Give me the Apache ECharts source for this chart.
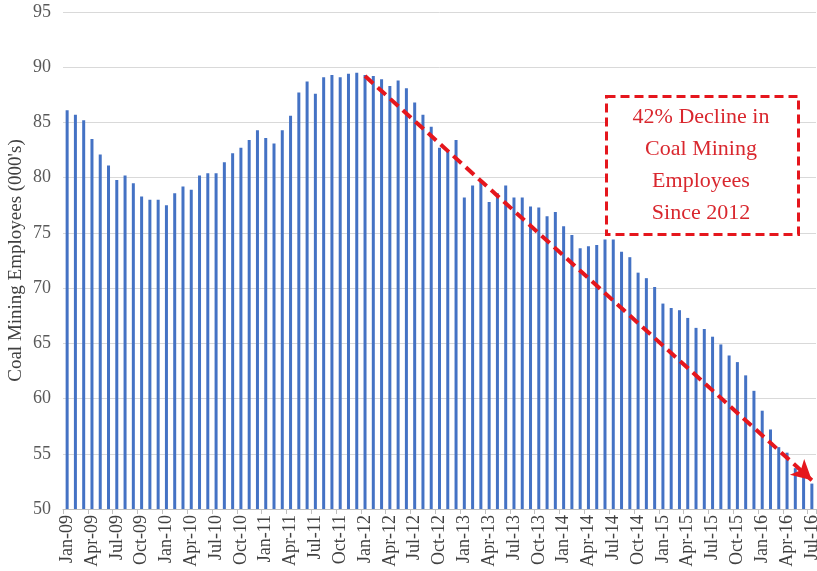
<!DOCTYPE html>
<html>
<head>
<meta charset="utf-8">
<script src="https://cdn.jsdelivr.net/npm/echarts@6/dist/echarts.min.js"></script>
<style>
  html, body { margin: 0; padding: 0; background: #fff; }
  #chart { width: 817px; height: 571px; }
</style>
</head>
<body>
<div id="chart"></div>
<script>
// monthly categories Jan-09 .. Jul-16
const months = ['Jan', 'Feb', 'Mar', 'Apr', 'May', 'Jun', 'Jul', 'Aug', 'Sep', 'Oct', 'Nov', 'Dec']
const years = ['09', '10', '11', '12', '13', '14', '15', '16']
const categories = []
years.forEach(y => months.forEach(m => categories.push(m + '-' + y)))
categories.length = 91

// coal mining employees (000's)
const employees = [
  86.1, 85.7, 85.2, 83.5, 82.1, 81.1, 79.8, 80.2, 79.5, 78.3, 78.0, 78.0,
  77.5, 78.6, 79.2, 78.9, 80.2, 80.4, 80.4, 81.4, 82.2, 82.7, 83.4, 84.3,
  83.6, 83.1, 84.3, 85.6, 87.7, 88.7, 87.6, 89.1, 89.3, 89.1, 89.4, 89.5,
  89.3, 89.2, 88.9, 88.3, 88.8, 88.1, 86.8, 85.7, 84.6, 82.7, 82.5, 83.4,
  78.2, 79.3, 79.7, 77.8, 78.6, 79.3, 78.2, 78.2, 77.4, 77.3, 76.5, 76.9,
  75.6, 74.8, 73.6, 73.8, 73.9, 74.4, 74.4, 73.3, 72.8, 71.4, 70.9, 70.1,
  68.6, 68.2, 68.0, 67.3, 66.4, 66.3, 65.6, 64.9, 63.9, 63.3, 62.1, 60.7,
  58.9, 57.2, 55.6, 55.1, 53.7, 53.2, 52.3
]

// trend arrow endpoints [category, value]
const trendStart = ['Jan-12', 89.2]
const trendEnd = ['Jul-16', 52.6]

const noteLines = ['42% Decline in', 'Coal Mining', 'Employees', 'Since 2012']

const serif = '"Liberation Serif", "DejaVu Serif", serif'
const red = '#e5161d'

const chart = echarts.init(document.getElementById('chart'))

const option = {
  animation: false,
  backgroundColor: '#fff',
  textStyle: { fontFamily: serif },
  grid: { left: 63, right: 1, top: 12, bottom: 62, containLabel: false, outerBoundsMode: 'none' },
  xAxis: {
    type: 'category',
    data: categories,
    axisLine: { lineStyle: { color: '#bfbfbf', width: 1 } },
    axisTick: { show: true, interval: 2, length: 5, lineStyle: { color: '#bfbfbf' } },
    axisLabel: {
      interval: 2,
      rotate: 90,
      margin: 6,
      color: '#404040',
      fontSize: 18,
      fontFamily: serif
    }
  },
  yAxis: {
    type: 'value',
    min: 50,
    max: 95,
    interval: 5,
    name: "Coal Mining Employees (000's)",
    nameLocation: 'middle',
    nameGap: 37,
    nameMoveOverlap: false,
    nameTextStyle: { color: '#404040', fontSize: 19, fontFamily: serif },
    axisLine: { show: false },
    axisTick: { show: false },
    axisLabel: { color: '#595959', fontSize: 18, margin: 12, fontFamily: serif },
    splitLine: { lineStyle: { color: '#d9d9d9', width: 1 } }
  },
  series: [
    {
      type: 'bar',
      data: employees,
      barWidth: 3,
      itemStyle: { color: '#4472c4' },
      markLine: {
        silent: true,
        symbol: ['none', 'arrow'],
        symbolSize: [16, 20],
        label: { show: false },
        lineStyle: { color: red, width: 4, type: [11, 6] },
        data: [[{ coord: trendStart }, { coord: trendEnd }]]
      }
    }
  ],
  graphic: [
    {
      type: 'rect',
      left: 605,
      top: 95,
      shape: { width: 192, height: 138 },
      style: { fill: '#fff', stroke: red, lineWidth: 3, lineDash: [9, 5] },
      z: 10
    },
    {
      type: 'text',
      left: 605,
      top: 101,
      z: 11,
      style: {
        text: noteLines.join('\n'),
        width: 192,
        align: 'center',
        x: 96,
        textAlign: 'center',
        fill: '#d9272e',
        font: '22px ' + serif,
        lineHeight: 32
      }
    }
  ]
}

chart.setOption(option)
</script>
</body>
</html>
